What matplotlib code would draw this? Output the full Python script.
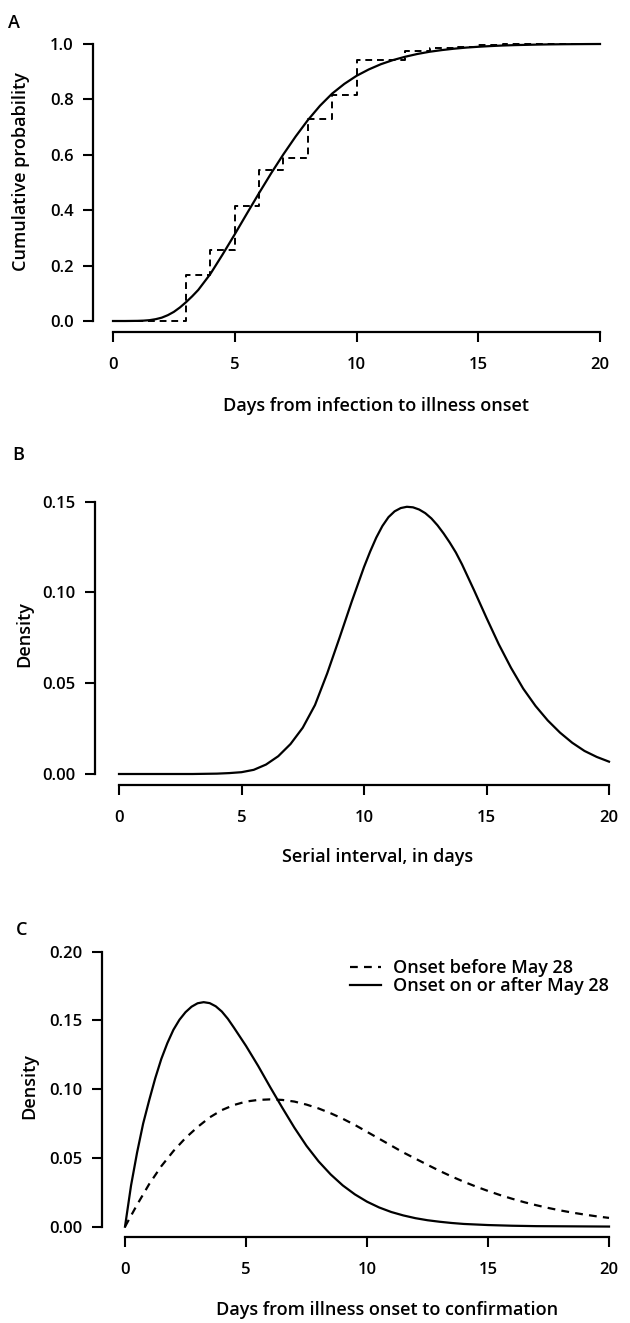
import matplotlib
matplotlib.use("Agg")
import matplotlib.pyplot as plt
from matplotlib.lines import Line2D

plt.rcParams['font.family'] = ['Open Sans', 'DejaVu Sans']

# ---------------- data ----------------
# Panel A: incubation period, fitted CDF and empirical step CDF
inc_days = [0, 0.5, 1, 1.25, 1.5, 1.75, 2, 2.25, 2.5, 2.75, 3, 3.25, 3.5, 4, 4.5,
            5, 5.5, 6, 6.5, 7, 7.5, 8, 8.5, 9, 9.5, 10, 10.5, 11, 11.5, 12, 12.5,
            13, 13.5, 14, 14.5, 15, 15.5, 16, 16.5, 17, 17.5, 18, 18.5, 19, 19.5, 20]
inc_cdf = [0, 0, 0.0005, 0.0013, 0.003, 0.0065, 0.012, 0.021, 0.033, 0.049, 0.068,
           0.089, 0.112, 0.17, 0.24, 0.313, 0.388, 0.462, 0.534, 0.602, 0.666,
           0.725, 0.777, 0.821, 0.856, 0.885, 0.908, 0.927, 0.942, 0.954, 0.964,
           0.972, 0.978, 0.983, 0.987, 0.990, 0.9925, 0.9945, 0.996, 0.997, 0.998,
           0.9987, 0.9992, 0.9995, 0.9998, 1.0]
ecdf_days = [0, 3, 4, 5, 6, 7, 8, 9, 10, 12, 13, 14, 15, 16, 20]
ecdf_vals = [0, 0.165, 0.255, 0.415, 0.545, 0.59, 0.73, 0.815, 0.943, 0.975,
             0.985, 0.99, 0.995, 1.0, 1.0]

# Panel B: serial interval density
si_days = [0, 1, 2, 3, 3.5, 4, 4.5, 5, 5.5, 6, 6.5, 7, 7.5, 8, 8.5, 9, 9.5,
           10, 10.25, 10.5, 10.75, 11, 11.25, 11.5, 11.75, 12, 12.25, 12.5, 12.75,
           13, 13.25, 13.5, 13.75, 14, 14.5, 15, 15.5, 16, 16.5, 17, 17.5, 18,
           18.5, 19, 19.5, 20]
si_dens = [0, 0, 0, 0, 0.0001, 0.0002, 0.0005, 0.001, 0.0023, 0.0052, 0.0098,
           0.0165, 0.0255, 0.038, 0.0555, 0.075, 0.095,
           0.114, 0.1225, 0.1302, 0.1366, 0.1415, 0.1447, 0.1465, 0.1472, 0.1469,
           0.1457, 0.1437, 0.1408, 0.137, 0.1325, 0.1275, 0.122, 0.1155, 0.101,
           0.086, 0.0715, 0.0585, 0.047, 0.0375, 0.0295, 0.0228, 0.0172, 0.0127,
           0.0094, 0.0068]

# Panel C: onset-to-confirmation densities
before_days = [0, 0.5, 1, 1.5, 2, 2.5, 3, 3.5, 4, 4.5, 5, 5.5, 6, 6.5, 7, 7.5, 8,
               8.5, 9, 9.5, 10, 10.5, 11, 11.5, 12, 12.5, 13, 13.5, 14, 14.5, 15,
               15.5, 16, 16.5, 17, 17.5, 18, 18.5, 19, 19.5, 20]
before_may28 = [0, 0.016, 0.031, 0.044, 0.055, 0.0645, 0.0725, 0.0795, 0.0848,
                0.0885, 0.091, 0.0922, 0.0926, 0.0922, 0.091, 0.0888, 0.086, 0.0825,
                0.0785, 0.074, 0.069, 0.064, 0.059, 0.054, 0.0495, 0.045, 0.0406,
                0.0365, 0.0327, 0.0292, 0.026, 0.023, 0.0203, 0.0178, 0.0156, 0.0136,
                0.0118, 0.0102, 0.0088, 0.0075, 0.0064]
after_days = [0, 0.25, 0.5, 0.75, 1, 1.25, 1.5, 1.75, 2, 2.25, 2.5, 2.75, 3, 3.25,
              3.5, 3.75, 4, 4.25, 4.5, 5, 5.5, 6, 6.5, 7, 7.5, 8, 8.5, 9, 9.5, 10,
              10.5, 11, 11.5, 12, 12.5, 13, 13.5, 14, 15, 16, 17, 18, 19, 20]
after_may28 = [0, 0.03, 0.054, 0.075, 0.092, 0.108, 0.122, 0.1335, 0.1432, 0.1505,
               0.156, 0.16, 0.1625, 0.1633, 0.1626, 0.1603, 0.1565, 0.1512, 0.1448,
               0.1315, 0.117, 0.1015, 0.0865, 0.072, 0.0588, 0.0475, 0.038, 0.030,
               0.0235, 0.0182, 0.014, 0.0107, 0.0082, 0.0062, 0.0047, 0.0036, 0.0027,
               0.002, 0.0012, 0.0007, 0.0004, 0.0003, 0.0002, 0.0001]

x_ticks = [0, 5, 10, 15, 20]
a_yticks = [0.0, 0.2, 0.4, 0.6, 0.8, 1.0]
a_ylabels = ["0.0", "0.2", "0.4", "0.6", "0.8", "1.0"]
b_yticks = [0.0, 0.05, 0.10, 0.15]
b_ylabels = ["0.00", "0.05", "0.10", "0.15"]
c_yticks = [0.0, 0.05, 0.10, 0.15, 0.20]
c_ylabels = ["0.00", "0.05", "0.10", "0.15", "0.20"]

legend_labels = ["Onset before May 28", "Onset on or after May 28"]

# ---------------- layout ----------------
W, H = 630, 1323
fig = plt.figure(figsize=(W / 100, H / 100), dpi=100)

LABEL_FS = 13
LABEL_W = "semibold"
TICK_FS = 12
LW = 1.6


def px_axes(x0, x1, ytop, ybot):
    return fig.add_axes([x0 / W, 1 - ybot / H, (x1 - x0) / W, (ybot - ytop) / H])


def style(ax, ymax, yticks, ylabels, left_off_px, bottom_off_px):
    ax.set_xlim(0, 20)
    ax.set_ylim(0, ymax)
    for s in ("top", "right"):
        ax.spines[s].set_visible(False)
    ax.spines["left"].set_position(("outward", left_off_px * 0.72))
    ax.spines["bottom"].set_position(("outward", bottom_off_px * 0.72))
    ax.spines["left"].set_bounds(0, ymax)
    ax.spines["bottom"].set_bounds(0, 20)
    for s in ("left", "bottom"):
        ax.spines[s].set_linewidth(1.6)
    ax.set_xticks(x_ticks)
    ax.set_xticklabels([str(t) for t in x_ticks], fontweight=LABEL_W)
    ax.set_yticks(yticks)
    ax.set_yticklabels(ylabels, fontweight=LABEL_W)
    ax.tick_params(axis="both", length=7, width=1.5, labelsize=TICK_FS)
    ax.tick_params(axis="x", pad=11)
    ax.tick_params(axis="y", pad=7)
    ax.patch.set_visible(False)


def place_labels(ax, xlabel, ylabel, xl_px, yl_px):
    ax.set_xlabel(xlabel, fontsize=LABEL_FS, fontweight=LABEL_W, va="center", ha="center")
    ax.set_ylabel(ylabel, fontsize=LABEL_FS, fontweight=LABEL_W, va="center", ha="center")
    ax.xaxis.set_label_coords(xl_px[0] / W, 1 - xl_px[1] / H, transform=fig.transFigure)
    ax.yaxis.set_label_coords(yl_px[0] / W, 1 - yl_px[1] / H, transform=fig.transFigure)


# Panel A
axA = px_axes(113, 600, 44, 321)
style(axA, 1.0, a_yticks, a_ylabels, 20, 11)
axA.step(ecdf_days, ecdf_vals, where="post", color="black", lw=1.4,
         dashes=(3.5, 2.5), clip_on=False)
axA.plot(inc_days, inc_cdf, color="black", lw=LW, clip_on=False)
place_labels(axA, "Days from infection to illness onset", "Cumulative probability",
             (376, 406), (21, 172))
fig.text(14 / W, 1 - 23 / H, "A", fontsize=LABEL_FS, fontweight=LABEL_W,
         ha="center", va="center")

# Panel B
axB = px_axes(119, 609, 501.7, 774)
style(axB, 0.15, b_yticks, b_ylabels, 24, 11)
axB.plot(si_days, si_dens, color="black", lw=LW, clip_on=False)
place_labels(axB, "Serial interval, in days", "Density", (378, 857), (24, 634))
fig.text(18 / W, 1 - 455 / H, "B", fontsize=LABEL_FS, fontweight=LABEL_W,
         ha="center", va="center")

# Panel C
axC = px_axes(125, 609, 951.7, 1226.7)
style(axC, 0.20, c_yticks, c_ylabels, 23, 10)
axC.plot(before_days, before_may28, color="black", lw=LW, dashes=(3.5, 2.8),
         clip_on=False)
axC.plot(after_days, after_may28, color="black", lw=LW, clip_on=False)
place_labels(axC, "Days from illness onset to confirmation", "Density",
             (387, 1310), (29, 1086))
fig.text(22 / W, 1 - 930 / H, "C", fontsize=LABEL_FS, fontweight=LABEL_W,
         ha="center", va="center")

handles = [Line2D([], [], color="black", lw=LW, dashes=(3.5, 2.8)),
           Line2D([], [], color="black", lw=LW)]
fig.legend(handles, legend_labels, loc="upper left",
           bbox_to_anchor=(350 / W, 1 - 959 / H), frameon=False,
           prop={"size": LABEL_FS, "weight": LABEL_W},
           handlelength=1.7, handletextpad=0.7,
           labelspacing=0.0, borderpad=0, borderaxespad=0)

fig.savefig("out.png", dpi=100)
